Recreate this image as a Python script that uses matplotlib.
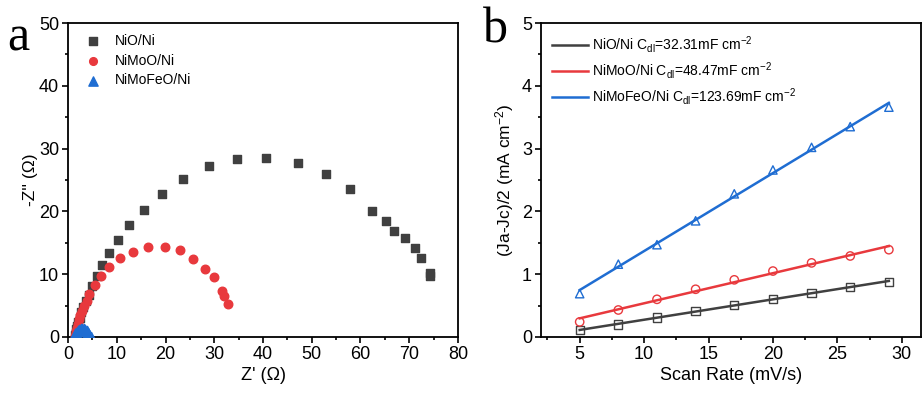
import numpy as np
import matplotlib
matplotlib.use("Agg")
import matplotlib.pyplot as plt
from matplotlib.ticker import MultipleLocator

plt.rcParams['font.family'] = ['Liberation Sans', 'DejaVu Sans']
plt.rcParams['mathtext.fontset'] = 'custom'
plt.rcParams['mathtext.rm'] = 'Liberation Sans'
plt.rcParams['mathtext.it'] = 'Liberation Sans'

# --- panel a: Nyquist data ---
nio_x = [1.5, 1.6, 1.7, 1.9, 2.1, 2.4, 2.7, 3.1, 3.6, 4.2, 5.0, 5.9, 7.0, 8.4, 10.3,
         12.6, 15.5, 19.2, 23.5, 28.9, 34.7, 40.7, 47.1, 53.0, 57.9, 62.3, 65.2,
         66.9, 69.1, 71.1, 72.5, 74.2, 74.2]
nio_y = [0.3, 0.7, 1.2, 1.8, 2.4, 3.1, 3.9, 4.8, 5.7, 6.7, 8.1, 9.7, 11.4, 13.3, 15.5,
         17.8, 20.3, 22.8, 25.2, 27.2, 28.4, 28.5, 27.7, 26.0, 23.6, 20.1, 18.4,
         16.9, 15.8, 14.2, 12.6, 10.2, 9.66]
nimoo_x = [1.5, 1.6, 1.7, 1.9, 2.1, 2.3, 2.5, 2.8, 3.2, 3.8, 4.4, 5.5, 6.7, 8.5, 10.7,
           13.4, 16.5, 19.9, 23.0, 25.6, 28.0, 29.9, 31.5, 32.0, 32.9]
nimoo_y = [0.1, 0.4, 0.9, 1.5, 2.1, 2.8, 3.5, 4.2, 5.0, 5.8, 6.9, 8.2, 9.7, 11.1, 12.6,
           13.6, 14.3, 14.3, 13.9, 12.4, 10.9, 9.5, 7.3, 6.5, 5.25]
nimofeo_x = [1.3, 1.5, 1.7, 2.0, 2.3, 2.6, 2.9, 3.2, 3.5, 3.8, 4.1, 4.4, 4.7]
nimofeo_y = [0.05, 0.4, 0.7, 0.95, 1.15, 1.25, 1.3, 1.25, 1.1, 0.9, 0.6, 0.3, 0.05]

# --- panel b: double layer capacitance ---
scan_rate = [5, 8, 11, 14, 17, 20, 23, 26, 29]
j_nio = [0.11, 0.20, 0.31, 0.41, 0.51, 0.60, 0.70, 0.80, 0.88]
j_nimoo = [0.24, 0.43, 0.60, 0.76, 0.91, 1.05, 1.18, 1.29, 1.39]
j_nimofeo = [0.69, 1.16, 1.47, 1.85, 2.28, 2.66, 3.02, 3.35, 3.66]
cdl_labels = ['NiO/Ni C$_{dl}$=32.31mF cm$^{-2}$',
              'NiMoO/Ni C$_{dl}$=48.47mF cm$^{-2}$',
              'NiMoFeO/Ni C$_{dl}$=123.69mF cm$^{-2}$']

gray = '#404040'
red = '#e8393d'
blue = '#1f6dd2'

fig = plt.figure(figsize=(9.22, 3.94), dpi=100)
ax1 = fig.add_axes([0.0738, 0.1447, 0.4229, 0.7969])
ax2 = fig.add_axes([0.5868, 0.1447, 0.4122, 0.7969])


def style_axes(ax):
    for s in ax.spines.values():
        s.set_linewidth(1.3)
    ax.tick_params(which='both', direction='out', width=1.2, labelsize=13,
                   colors='black', pad=2.5)
    ax.tick_params(which='major', length=4)
    ax.tick_params(which='minor', length=2.5)


ax1.scatter(nio_x, nio_y, marker='s', s=34, color=gray, label='NiO/Ni', zorder=3)
ax1.scatter(nimoo_x, nimoo_y, marker='o', s=38, color=red, label='NiMoO/Ni', zorder=4)
ax1.scatter(nimofeo_x, nimofeo_y, marker='^', s=55, color=blue, label='NiMoFeO/Ni', zorder=5)
ax1.set_xlim(0, 80)
ax1.set_ylim(0, 50)
ax1.xaxis.set_major_locator(MultipleLocator(10))
ax1.xaxis.set_minor_locator(MultipleLocator(5))
ax1.yaxis.set_major_locator(MultipleLocator(10))
ax1.yaxis.set_minor_locator(MultipleLocator(5))
ax1.set_xlabel("Z' (Ω)", fontsize=13, labelpad=3)
ax1.set_ylabel("-Z'' (Ω)", fontsize=12.5, labelpad=1)
style_axes(ax1)
ax1.legend(loc='upper left', frameon=False, fontsize=10, handletextpad=0.6,
           borderaxespad=0.4, labelspacing=0.4, bbox_to_anchor=(0.0, 1.0),
           markerscale=0.9)

series = [(j_nio, gray, 's'), (j_nimoo, red, 'o'), (j_nimofeo, blue, '^')]
sr = np.array(scan_rate)
for (vals, c, m), lab in zip(series, cdl_labels):
    k, b = np.polyfit(sr, vals, 1)
    ax2.plot(sr, k * sr + b, color=c, lw=1.8, label=lab, zorder=2)
    ax2.scatter(sr, vals, marker=m, s=36, facecolors='none', edgecolors=c,
                linewidths=1.0, zorder=3)
ax2.set_xlim(2, 31.5)
ax2.set_ylim(0, 5)
ax2.xaxis.set_major_locator(MultipleLocator(5))
ax2.xaxis.set_minor_locator(MultipleLocator(2.5))
ax2.yaxis.set_major_locator(MultipleLocator(1))
ax2.yaxis.set_minor_locator(MultipleLocator(0.5))
ax2.set_xlabel('Scan Rate (mV/s)', fontsize=13, labelpad=3)
ax2.set_ylabel('(Ja-Jc)/2 (mA cm$^{-2}$)', fontsize=12.5, labelpad=4)
style_axes(ax2)
ax2.legend(loc='upper left', frameon=False, fontsize=10, handlelength=2.6,
           handletextpad=0.3, labelspacing=0.35, borderaxespad=0.4)

fig.text(0.008, 0.873, 'a', family='Liberation Serif', fontsize=36)
fig.text(0.524, 0.893, 'b', family='Liberation Serif', fontsize=36)

fig.savefig('out.png', dpi=100)
